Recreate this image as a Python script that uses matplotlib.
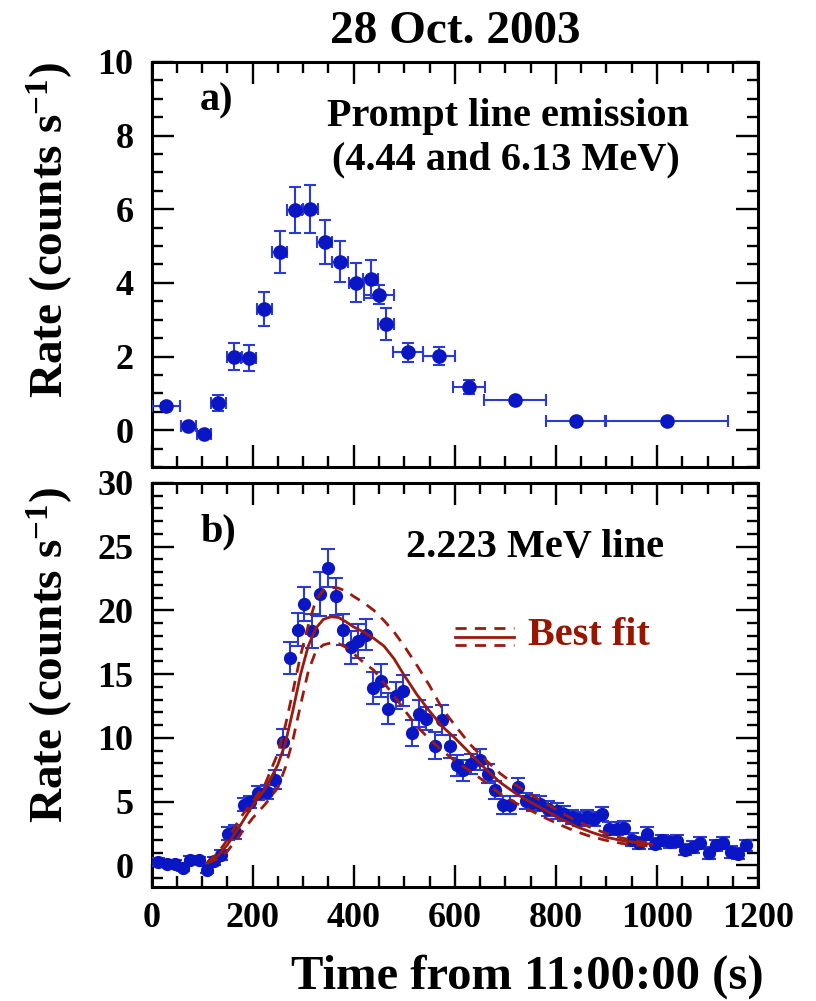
import matplotlib
matplotlib.use("Agg")
import matplotlib.pyplot as plt
from matplotlib.ticker import MultipleLocator

# ---------------- data ----------------
# Panel a: prompt line emission (4.44 and 6.13 MeV)
a_time = [28, 73, 103, 132, 164, 192, 223, 254, 283, 314, 343, 373, 405, 434, 450, 464, 508, 569, 628, 719, 839, 1020]
a_time_err = [28, 14, 14, 15, 15, 15, 15, 15, 15, 15, 15, 15, 15, 15, 30, 15, 30, 31, 31, 61, 59, 121]
a_rate = [0.65, 0.10, -0.10, 0.74, 2.00, 1.96, 3.29, 4.83, 5.98, 6.00, 5.10, 4.58, 4.01, 4.10, 3.68, 2.89, 2.11, 2.02, 1.17, 0.83, 0.26, 0.26]
a_rate_err = [0.08, 0.08, 0.08, 0.21, 0.37, 0.36, 0.47, 0.57, 0.63, 0.65, 0.60, 0.55, 0.52, 0.51, 0.25, 0.44, 0.25, 0.25, 0.18, 0.05, 0.05, 0.05]

# Panel b: 2.223 MeV line
b_time = [13, 30, 46, 62, 77, 93, 109, 124, 137, 152, 165, 182, 195, 211, 228, 244, 260, 274, 289, 302,
          318, 333, 349, 364, 378, 394, 409, 424, 439, 454, 468, 484, 498, 515, 529, 544, 560, 574, 591, 604,
          617, 633, 650, 665, 680, 695, 709, 726, 741, 755, 769, 785, 802, 816, 831, 846, 861, 876, 891, 906,
          920, 935, 950, 965, 981, 996, 1010, 1025, 1040, 1056, 1071, 1085, 1102, 1117, 1131, 1146, 1161, 1176]
b_rate = [0.26, 0.13, 0.13, -0.18, 0.45, 0.39, -0.34, 0.34, 0.78, 2.48, 2.60, 4.76, 4.97, 5.67, 5.75, 6.72, 9.67, 16.3, 18.5, 20.5,
          18.4, 21.3, 23.3, 21.1, 18.5, 17.1, 17.6, 18.1, 13.9, 14.5, 12.3, 13.3, 13.7, 10.4, 11.9, 11.5, 9.4, 11.4, 9.33, 7.84,
          7.45, 7.97, 8.30, 7.20, 5.90, 4.70, 4.70, 6.14, 5.04, 4.89, 4.84, 4.45, 4.26, 4.05, 3.79, 3.66, 3.79, 3.66, 4.00, 2.88,
          2.88, 2.96, 2.00, 1.75, 2.48, 1.70, 1.96, 1.83, 1.90, 1.23, 1.44, 1.75, 0.97, 1.57, 1.75, 1.05, 0.92, 1.57]
b_rate_err = [0.3, 0.3, 0.3, 0.3, 0.3, 0.3, 0.3, 0.35, 0.4, 0.52, 0.55, 0.5, 0.5, 0.55, 0.55, 0.75, 1.0, 1.25, 1.3, 1.3,
              1.35, 1.7, 1.5, 1.45, 1.25, 1.3, 1.35, 1.2, 1.25, 1.3, 1.2, 1.05, 1.2, 1.0, 1.05, 0.9, 1.05, 1.2, 0.9, 0.85,
              0.8, 0.8, 0.8, 0.75, 0.7, 0.7, 0.7, 0.7, 0.65, 0.65, 0.6, 0.6, 0.6, 0.6, 0.55, 0.55, 0.55, 0.55, 0.55, 0.5,
              0.5, 0.5, 0.5, 0.5, 0.5, 0.45, 0.45, 0.45, 0.45, 0.45, 0.45, 0.45, 0.45, 0.45, 0.45, 0.45, 0.45, 0.45]

# Best-fit curve and its envelope
fit_time = [110, 130, 150, 175, 200, 225, 250, 265, 280, 295, 310, 325, 340, 355, 370, 385, 400, 420, 440, 460,
            480, 500, 525, 550, 575, 600, 630, 660, 690, 720, 750, 780, 810, 840, 870, 900, 930, 960, 990]
fit_mid = [0.2, 0.7, 1.6, 3.1, 4.7, 6.0, 7.9, 9.6, 12.2, 15.0, 17.2, 18.6, 19.3, 19.5, 19.45, 19.1, 18.7, 18.3, 17.8, 17.2,
           16.2, 14.9, 13.4, 12.1, 10.9, 10.0, 8.8, 7.6, 6.5, 5.65, 4.95, 4.3, 3.65, 3.05, 2.6, 2.2, 1.95, 1.78, 1.65]
fit_upper = [0.25, 0.9, 2.0, 3.7, 5.0, 6.4, 8.8, 11.0, 13.7, 16.5, 18.8, 20.8, 21.6, 21.8, 21.75, 21.5, 21.1, 20.6, 20.0, 19.2,
             18.3, 17.2, 15.7, 14.1, 12.3, 11.0, 9.5, 8.3, 7.2, 6.3, 5.55, 4.85, 4.15, 3.5, 2.95, 2.5, 2.15, 1.9, 1.72]
fit_lower = [0.15, 0.5, 1.1, 2.4, 3.7, 4.8, 6.1, 7.7, 9.9, 12.6, 15.2, 16.8, 17.3, 17.45, 17.4, 17.1, 16.6, 15.9, 15.3, 14.3,
             13.3, 12.2, 10.9, 9.9, 9.0, 8.2, 7.4, 6.55, 5.6, 4.9, 4.3, 3.7, 3.15, 2.65, 2.25, 1.95, 1.72, 1.58, 1.5]

# ---------------- style ----------------
plt.rcParams['font.family'] = ['Liberation Serif', 'DejaVu Serif']
plt.rcParams['font.weight'] = 'bold'
plt.rcParams['mathtext.fontset'] = 'custom'
plt.rcParams['mathtext.rm'] = 'Liberation Serif:bold'
plt.rcParams['mathtext.it'] = 'Liberation Serif:bold'
plt.rcParams['mathtext.bf'] = 'Liberation Serif:bold'
plt.rcParams['mathtext.default'] = 'rm'

BLUE = '#0a16c4'
EBLUE = '#2a3ad6'
RED = '#9a1b0e'

fig = plt.figure(figsize=(8.16, 10.01), dpi=100)
ax_a = fig.add_axes([0.1857, 0.5335, 0.7433, 0.4046])
ax_b = fig.add_axes([0.1857, 0.1139, 0.7433, 0.4036])

for ax in (ax_a, ax_b):
    for sp in ax.spines.values():
        sp.set_linewidth(2.2)
    ax.set_xlim(0, 1200)
    ax.xaxis.set_major_locator(MultipleLocator(200))
    ax.xaxis.set_minor_locator(MultipleLocator(50))
    ax.tick_params(which='both', direction='in', top=True, right=True, width=1.7)
    ax.tick_params(which='major', length=16, labelsize=26, pad=11)
    ax.tick_params(which='minor', length=8)
    ax.tick_params(axis='y', which='major', pad=13)
    for lab in ax.get_xticklabels() + ax.get_yticklabels():
        lab.set_fontweight('bold')

# ---- panel a ----
ax_a.set_ylim(-1, 10)
ax_a.yaxis.set_major_locator(MultipleLocator(2))
ax_a.yaxis.set_minor_locator(MultipleLocator(0.5))
ax_a.tick_params(axis='x', labelbottom=False)
ax_a.errorbar(a_time, a_rate, xerr=a_time_err, yerr=a_rate_err, fmt='o', ms=9.5,
              color=BLUE, ecolor=EBLUE, elinewidth=1.5, capsize=4, capthick=1.5, zorder=3)
ax_a.text(0.08, 0.905, 'a)', transform=ax_a.transAxes, fontsize=29, fontweight='bold', va='center', ha='left')
ax_a.text(0.588, 0.865, 'Prompt line emission', transform=ax_a.transAxes, fontsize=29,
          fontweight='bold', va='center', ha='center')
ax_a.text(0.585, 0.757, '(4.44 and 6.13 MeV)', transform=ax_a.transAxes, fontsize=29,
          fontweight='bold', va='center', ha='center')
ax_a.set_title('28 Oct. 2003', fontsize=34, fontweight='bold', pad=14)
ax_a.set_ylabel('Rate (counts s$^{-1}$)', fontsize=34, fontweight='bold')
ax_a.yaxis.set_label_coords(-0.127, 0.585)

# ---- panel b ----
ax_b.set_ylim(-1.7, 30)
ax_b.yaxis.set_major_locator(MultipleLocator(5))
ax_b.yaxis.set_minor_locator(MultipleLocator(1))
ax_b.errorbar(b_time, b_rate, yerr=b_rate_err, fmt='o', ms=8.5,
              color=BLUE, ecolor=EBLUE, elinewidth=1.5, capsize=5, capthick=1.5, zorder=3)
ax_b.plot(fit_time, fit_mid, color=RED, lw=2.0, zorder=4)
ax_b.plot(fit_time, fit_upper, color=RED, lw=2.0, dashes=(4, 3), zorder=4)
ax_b.plot(fit_time, fit_lower, color=RED, lw=2.0, dashes=(4, 3), zorder=4)

# legend
ax_b.plot([0.50, 0.598], [0.620, 0.620], color=RED, lw=2.0, transform=ax_b.transAxes)
ax_b.plot([0.50, 0.598], [0.640, 0.640], color=RED, lw=2.0, dashes=(4, 3), transform=ax_b.transAxes)
ax_b.plot([0.50, 0.598], [0.600, 0.600], color=RED, lw=2.0, dashes=(4, 3), transform=ax_b.transAxes)
ax_b.text(0.62, 0.622, 'Best fit', transform=ax_b.transAxes, fontsize=29, fontweight='bold',
          color='#991500', va='center', ha='left')

ax_b.text(0.08, 0.879, 'b)', transform=ax_b.transAxes, fontsize=29, fontweight='bold', va='center', ha='left')
ax_b.text(0.632, 0.84, '2.223 MeV line', transform=ax_b.transAxes, fontsize=29,
          fontweight='bold', va='center', ha='center')
ax_b.set_ylabel('Rate (counts s$^{-1}$)', fontsize=34, fontweight='bold')
ax_b.yaxis.set_label_coords(-0.127, 0.575)

fig.text(0.646, 0.024, 'Time from 11:00:00 (s)', fontsize=35, fontweight='bold', ha='center', va='center')

fig.savefig('out.png', dpi=100)
